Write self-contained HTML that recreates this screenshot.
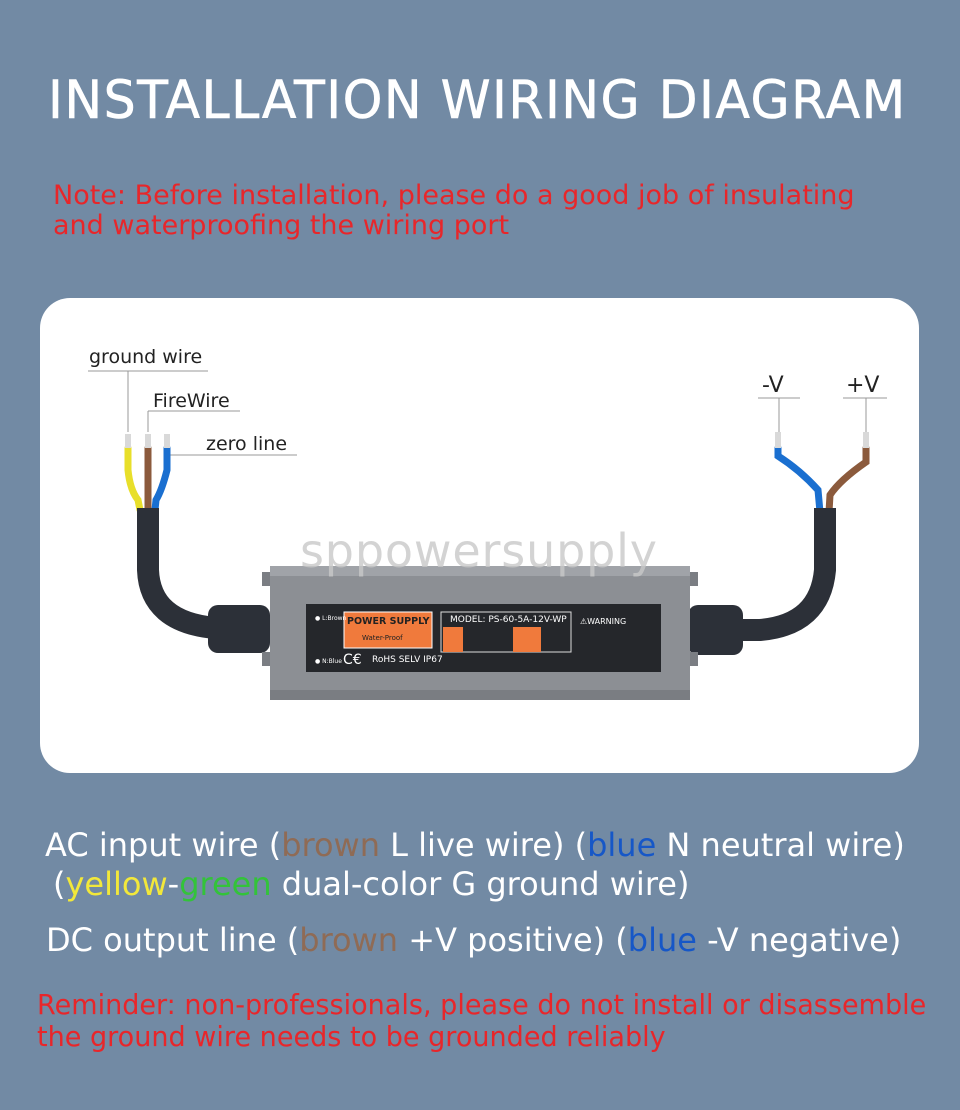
<!DOCTYPE html>
<html><head><meta charset="utf-8"><style>
body{margin:0;width:960px;height:1110px;background:#728aa4;font-family:"Liberation Sans","DejaVu Sans",sans-serif;position:relative;overflow:hidden}
.a{position:absolute;white-space:nowrap}
.t{left:48px;top:70px;font-size:53px;color:#fff;letter-spacing:1.5px;font-family:"DejaVu Sans",sans-serif;transform:scaleX(0.954);transform-origin:left;-webkit-text-stroke:0.6px #fff}
.n{left:53px;font-size:27px;color:#e8262a;font-family:"DejaVu Sans",sans-serif}
.card{left:40px;top:298px;width:879px;height:475px;background:#fff;border-radius:30px}
.w{color:#fff;font-size:32px;font-family:"DejaVu Sans",sans-serif}
.r{color:#e8262a;font-size:28px;font-family:"DejaVu Sans",sans-serif;left:37px;transform:scaleX(0.966);transform-origin:left}
</style></head><body>
<div class="a t">INSTALLATION WIRING DIAGRAM</div>
<div class="a n" style="top:180px">Note: Before installation, please do a good job of insulating</div>
<div class="a n" style="top:210px">and waterproofing the wiring port</div>
<div class="a card"></div>
<svg class="a" style="left:0;top:0" width="960" height="1110" font-family="DejaVu Sans,sans-serif">
<g stroke="#999" stroke-width="1" fill="none">
<line x1="88" y1="371" x2="208" y2="371"/><line x1="128" y1="371" x2="128" y2="432"/>
<line x1="148" y1="411" x2="240" y2="411"/><line x1="148" y1="411" x2="148" y2="432"/>
<line x1="170" y1="455" x2="297" y2="455"/>
<line x1="758" y1="398" x2="800" y2="398"/><line x1="779" y1="398" x2="779" y2="440"/>
<line x1="843" y1="398" x2="887" y2="398"/><line x1="866" y1="398" x2="866" y2="440"/>
</g>
<g font-size="19" fill="#222">
<text x="89" y="363">ground wire</text><text x="153" y="407">FireWire</text><text x="206" y="450">zero line</text>
<text x="762" y="392" font-size="22">-V</text><text x="846" y="392" font-size="22">+V</text></g>
<g fill="none" stroke-width="7" stroke-linecap="round">
<path d="M128 448 L128 470 Q130 490 138 500 L140 510" stroke="#e8df2a"/>
<path d="M148 448 L148 510" stroke="#8b5a3c"/>
<path d="M167 448 L167 470 Q162 490 156 500 L155 510" stroke="#1a6fd0"/>
<path d="M778 448 L778 456 Q800 470 818 490 L820 512" stroke="#1a6fd0"/>
<path d="M866 448 L866 462 Q840 480 830 495 L829 512" stroke="#8b5a3c"/>
</g>
<g stroke="#d9d9d9" stroke-width="6"><line x1="128" y1="434" x2="128" y2="448"/><line x1="148" y1="434" x2="148" y2="448"/><line x1="167" y1="434" x2="167" y2="448"/><line x1="778" y1="432" x2="778" y2="448"/><line x1="866" y1="432" x2="866" y2="448"/></g>
<g fill="none" stroke="#2c3038" stroke-width="22">
<path d="M148 508 L148 570 Q150 622 215 628 L250 628"/>
<path d="M825 508 L825 570 Q820 625 760 630 L710 630"/>
</g>
<rect x="208" y="605" width="62" height="48" rx="10" fill="#2c3038"/>
<rect x="688" y="605" width="55" height="50" rx="10" fill="#2c3038"/>
<rect x="262" y="572" width="12" height="14" fill="#7b7e83"/><rect x="262" y="652" width="12" height="14" fill="#7b7e83"/>
<rect x="686" y="572" width="12" height="14" fill="#7b7e83"/><rect x="686" y="652" width="12" height="14" fill="#7b7e83"/>
<rect x="270" y="566" width="420" height="134" fill="#8c8f94"/>
<rect x="270" y="566" width="420" height="10" fill="#a0a3a8"/>
<rect x="270" y="690" width="420" height="10" fill="#7a7d82"/>
<rect x="306" y="604" width="355" height="68" fill="#25272b"/>
<rect x="344" y="612" width="88" height="36" fill="#f07a3c" stroke="#fff" stroke-width="1"/>
<text x="347" y="624" font-size="9.5" font-weight="bold" fill="#222">POWER SUPPLY</text>
<text x="362" y="640" font-size="7" fill="#222">Water-Proof</text>
<rect x="441" y="612" width="130" height="40" fill="none" stroke="#ddd"/>
<text x="450" y="622" font-size="9" fill="#fff">MODEL: PS-60-5A-12V-WP</text>
<rect x="443" y="627" width="20" height="25" fill="#f07a3c"/><rect x="513" y="627" width="28" height="25" fill="#f07a3c"/>
<text x="343" y="664" font-size="14" fill="#fff">C€</text>
<text x="372" y="662" font-size="9" fill="#fff">RoHS SELV IP67</text>
<text x="580" y="624" font-size="8" fill="#fff">⚠WARNING</text>
<text x="315" y="620" font-size="6" fill="#fff">● L:Brown</text><text x="315" y="663" font-size="6" fill="#fff">● N:Blue</text>
<text x="300" y="567" font-size="46" fill="#c8c8c8" fill-opacity="0.8" textLength="357">sppowersupply</text>
</svg>
<div class="a w" style="left:45px;top:826px">AC input wire (<span style="color:#8f6b55">brown</span> L live wire) (<span style="color:#1657c7">blue</span> N neutral wire)</div>
<div class="a w" style="left:53px;top:865px">(<span style="color:#f2e83a">yellow</span>-<span style="color:#33c33a">green</span> dual-color G ground wire)</div>
<div class="a w" style="left:46px;top:921px">DC output line (<span style="color:#8f6b55">brown</span> +V positive) (<span style="color:#1657c7">blue</span> -V negative)</div>
<div class="a r" style="top:988px">Reminder: non-professionals, please do not install or disassemble</div>
<div class="a r" style="top:1020px">the ground wire needs to be grounded reliably</div>
</body></html>
